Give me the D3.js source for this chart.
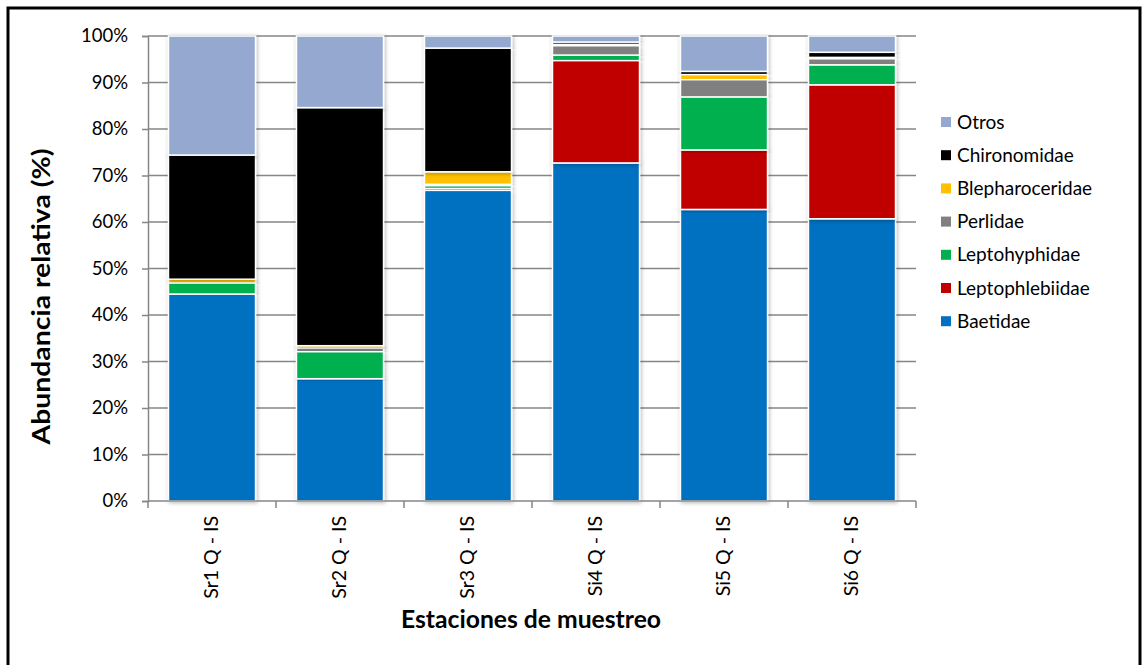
<!DOCTYPE html>
<html>
<head>
<meta charset="utf-8">
<script src="https://cdn.jsdelivr.net/npm/d3@7"></script>
<style>
  html, body { margin: 0; padding: 0; background: #fff; }
  svg { display: block; font-family: Lato, "Open Sans", sans-serif; }
</style>
</head>
<body>
<svg id="chart" width="1144" height="665"></svg>
<script>
// Sampling stations
const stations = ["Sr1 Q - IS", "Sr2 Q - IS", "Sr3 Q - IS", "Si4 Q - IS", "Si5 Q - IS", "Si6 Q - IS"];

// Families, stacked bottom to top
const families = ["Baetidae", "Leptophlebiidae", "Leptohyphidae", "Perlidae", "Blepharoceridae", "Chironomidae", "Otros"];
const familyColors = ["#0070C0", "#C00000", "#00B050", "#808080", "#FFC000", "#000000", "#95A9D0"];

// Relative abundance (%) per family, one value per station
const baetidae        = [44.5, 26.3, 66.8, 72.7, 62.7, 60.7];
const leptophlebiidae = [ 0.0,  0.0,  0.4, 22.0, 12.8, 28.8];
const leptohyphidae   = [ 2.4,  5.8,  0.6,  1.2, 11.4,  4.3];
const perlidae        = [ 0.0,  0.8,  0.3,  2.0,  3.7,  1.3];
const blepharoceridae = [ 0.8,  0.5,  2.7,  0.3,  1.1,  0.3];
const chironomidae    = [26.7, 51.2, 26.6,  0.5,  0.7,  1.1];
const otros           = [25.6, 15.4,  2.6,  1.3,  7.6,  3.5];

const yTicks = [0, 10, 20, 30, 40, 50, 60, 70, 80, 90, 100];

const seriesValues = [baetidae, leptophlebiidae, leptohyphidae, perlidae, blepharoceridae, chironomidae, otros];
const rows = stations.map((s, i) => {
  const r = { station: s };
  families.forEach((f, k) => { r[f] = seriesValues[k][i]; });
  return r;
});

const svg = d3.select("#chart");
const margin = { left: 148, right: 228, top: 36, bottom: 164 };
const W = 1144, H = 665;

const x = d3.scaleBand().domain(stations)
  .range([margin.left, W - margin.right])
  .paddingInner(0.32).paddingOuter(0.16);
const y = d3.scaleLinear().domain([0, 100]).range([H - margin.bottom, margin.top]);
const color = d3.scaleOrdinal().domain(families).range(familyColors);

// Soft shadow behind bars
const defs = svg.append("defs");
const filt = defs.append("filter").attr("id", "shadow")
  .attr("x", "-20%").attr("y", "-5%").attr("width", "140%").attr("height", "110%");
filt.append("feDropShadow").attr("dx", 1).attr("dy", 1)
  .attr("stdDeviation", 2).attr("flood-color", "#000").attr("flood-opacity", 0.3);

// Outer frame
svg.append("rect").attr("x", 8).attr("y", 8).attr("width", 1132).attr("height", 680)
  .attr("fill", "none").attr("stroke", "#000").attr("stroke-width", 3);

// Horizontal gridlines
svg.append("g").selectAll("line").data(yTicks.filter(d => d > 0)).join("line")
  .attr("x1", margin.left).attr("x2", W - margin.right)
  .attr("y1", d => y(d)).attr("y2", d => y(d))
  .attr("stroke", "#868686").attr("stroke-width", 1.5);

// Stacked bars
const stack = d3.stack().keys(families);
const layers = stack(rows);
svg.append("g").selectAll("g").data(layers).join("g")
  .attr("fill", d => color(d.key))
  .selectAll("rect").data(d => d.filter(p => p[1] - p[0] > 0)).join("rect")
  .attr("x", d => x(d.data.station))
  .attr("width", x.bandwidth())
  .attr("y", d => y(d[1]))
  .attr("height", d => y(d[0]) - y(d[1]))
  .attr("stroke", "#fff").attr("stroke-width", 1.5)
  .attr("filter", "url(#shadow)");

// Y axis
const yAxis = svg.append("g").attr("transform", `translate(${margin.left},0)`)
  .call(d3.axisLeft(y).tickValues(yTicks).tickFormat(d => d + "%").tickSize(6).tickPadding(14));
yAxis.select(".domain").attr("stroke", "#868686").attr("stroke-width", 1.5);
yAxis.selectAll(".tick line").attr("stroke", "#868686").attr("stroke-width", 1.5);
yAxis.selectAll(".tick text").attr("font-family", "Lato, sans-serif").attr("font-size", 18.5).attr("fill", "#000");

// X axis: ticks on band boundaries, rotated labels
const xg = svg.append("g").attr("transform", `translate(0,${y(0)})`);
xg.append("line").attr("x1", margin.left).attr("x2", W - margin.right)
  .attr("stroke", "#868686").attr("stroke-width", 1.5);
const boundaries = stations.map(s => x(s) - x.step() * x.paddingInner() / 2).concat([W - margin.right]);
xg.selectAll("line.tk").data(boundaries).join("line").attr("class", "tk")
  .attr("x1", d => d).attr("x2", d => d).attr("y1", 0).attr("y2", 7)
  .attr("stroke", "#868686").attr("stroke-width", 1.5);
xg.selectAll("text").data(stations).join("text")
  .attr("transform", d => `translate(${x(d) + x.bandwidth() / 2 + 6},15) rotate(-90)`)
  .attr("text-anchor", "end")
  .attr("font-size", 19.5).attr("fill", "#000")
  .text(d => d);

// Axis titles
svg.append("text").attr("x", (margin.left + W - margin.right) / 2 - 1).attr("y", 628)
  .attr("text-anchor", "middle").attr("font-weight", "bold").attr("font-size", 25)
  .attr("textLength", 260).attr("lengthAdjust", "spacingAndGlyphs")
  .text("Estaciones de muestreo");
svg.append("text").attr("transform", `translate(50,${(y(0) + y(100)) / 2 + 28}) rotate(-90)`)
  .attr("text-anchor", "middle").attr("font-weight", "bold").attr("font-size", 25)
  .attr("textLength", 296).attr("lengthAdjust", "spacingAndGlyphs")
  .text("Abundancia relativa (%)");

// Legend (top entry is last stacked series)
const legendItems = families.slice().reverse();
const lg = svg.append("g").attr("transform", "translate(941,122)");
const li = lg.selectAll("g").data(legendItems).join("g")
  .attr("transform", (d, i) => `translate(0,${i * 33.2})`);
li.append("rect").attr("x", 0).attr("y", -5).attr("width", 10).attr("height", 10)
  .attr("fill", d => color(d));
li.append("text").attr("x", 16).attr("y", 0).attr("dy", "0.35em")
  .attr("font-size", 19).attr("fill", "#000").text(d => d);
</script>
</body>
</html>
